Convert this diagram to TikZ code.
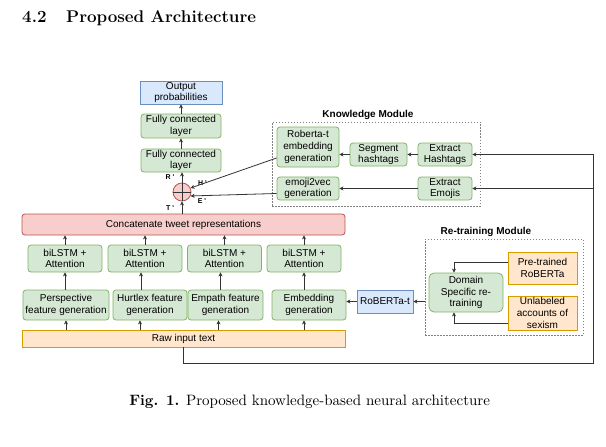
\documentclass[tikz,border=0pt]{standalone}
\usepackage{fontspec}
\newfontfamily\arialfont{Liberation Sans}
\usetikzlibrary{arrows.meta}
\definecolor{gfill}{HTML}{D5E8D4}
\definecolor{gline}{HTML}{82B366}
\definecolor{bfill}{HTML}{DAE8FC}
\definecolor{bline}{HTML}{6C8EBF}
\definecolor{rfill}{HTML}{F8CECC}
\definecolor{rline}{HTML}{B85450}
\definecolor{ofill}{HTML}{FFE6CC}
\definecolor{oline}{HTML}{D79B00}
\definecolor{lcol}{HTML}{333333}

\begin{document}
\begin{tikzpicture}[x=1pt,y=-1pt,
  box/.style={draw, line width=0.8pt, inner sep=1pt, align=center,
    font=\arialfont\fontsize{10}{11.8}\selectfont},
  gbox/.style={box, fill=gfill, draw=gline, rounded corners=3pt},
  bbox/.style={box, fill=bfill, draw=bline},
  obox/.style={box, fill=ofill, draw=oline},
  rbox/.style={box, fill=rfill, draw=rline, rounded corners=3pt},
  modbox/.style={draw=gray, line width=0.6pt, dash pattern=on 1.5pt off 1.5pt},
  modtitle/.style={font=\arialfont\bfseries\fontsize{10}{12}\selectfont},
  tag/.style={font=\arialfont\bfseries\fontsize{7}{8}\selectfont, inner sep=0pt},
  arr/.style={-{Stealth[length=4pt,width=4pt]}, line width=0.8pt, draw=lcol},
  ln/.style={line width=0.8pt, draw=lcol}]
\newcommand{\lstmy}{258.5}
\newcommand{\featy}{305}
\useasboundingbox (0,0) rectangle (606,447);

% heading and caption
\node[anchor=base west, inner sep=0pt, font=\bfseries\fontsize{17}{20}\selectfont] (secnum) at (22,22) {4.2};
\node[anchor=base west, inner sep=0pt, font=\bfseries\fontsize{17}{20}\selectfont] (sectitle) at (66,22) {Proposed Architecture};
\node[anchor=base west, inner sep=0pt, font=\fontsize{10}{12}\selectfont, scale=1.5, transform shape] (caption) at (129,405) {\textbf{Fig. 1.} Proposed knowledge-based neural architecture};

% main stack
\node[bbox, minimum width=82, minimum height=23] (out) at (181,92.5) {Output\\probabilities};
\node[gbox, minimum width=80, minimum height=24] (fc1) at (181,126) {Fully connected\\layer};
\node[gbox, minimum width=80, minimum height=23] (fc2) at (181,160.5) {Fully connected\\layer};
\node[circle, draw=rline, fill=rfill, line width=0.8pt, minimum size=18, inner sep=0pt] (sum) at (182,192) {};
\draw[line width=0.8pt, draw=lcol] (sum.north) -- (sum.south) (sum.west) -- (sum.east);
\node[rbox, minimum width=323, minimum height=21] (cat) at (183.5,224.5) {Concatenate tweet representations};

\node[gbox, minimum width=74, minimum height=27] (lstm1) at (65,\lstmy) {biLSTM +\\Attention};
\node[gbox, minimum width=74, minimum height=27] (lstm2) at (145,\lstmy) {biLSTM +\\Attention};
\node[gbox, minimum width=74, minimum height=27] (lstm3) at (224.5,\lstmy) {biLSTM +\\Attention};
\node[gbox, minimum width=74, minimum height=27] (lstm4) at (304,\lstmy) {biLSTM +\\Attention};

\node[gbox, minimum width=86, minimum height=30] (feat1) at (66,\featy) {Perspective\\feature generation};
\node[gbox, minimum width=74, minimum height=30] (feat2) at (150,\featy) {Hurtlex feature\\generation};
\node[gbox, minimum width=75, minimum height=30] (feat3) at (225.5,\featy) {Empath feature\\generation};
\node[gbox, minimum width=74, minimum height=30] (feat4) at (309,\featy) {Embedding\\generation};

\node[obox, minimum width=323, minimum height=17] (raw) at (183.5,338.5) {Raw input text};

\node[bbox, minimum width=56, minimum height=23] (rob) at (385,301.5) {RoBERTa-t};

% knowledge module
\node[modbox, minimum width=208, minimum height=84] (know) at (376,164) {};
\node[modtitle] (knowtitle) at (368,115) {Knowledge Module};
\node[gbox, minimum width=62, minimum height=40] (rgen) at (308,147) {Roberta-t\\embedding\\generation};
\node[gbox, minimum width=57, minimum height=23] (seg) at (378.5,154.5) {Segment\\hashtags};
\node[gbox, minimum width=54, minimum height=23] (exh) at (445,154.5) {Extract\\Hashtags};
\node[gbox, minimum width=62, minimum height=23] (egen) at (308,188.5) {emoji2vec\\generation};
\node[gbox, minimum width=54, minimum height=23] (exe) at (445,188.5) {Extract\\Emojis};

% re-training module
\node[modbox, minimum width=158, minimum height=96] (retrain) at (504,287) {};
\node[modtitle] (retraintitle) at (486,232) {Re-training Module};
\node[gbox, minimum width=74, minimum height=39, rounded corners=5pt] (dom) at (466,292.5) {Domain\\Specific re-\\training};
\node[obox, minimum width=69, minimum height=32] (pre) at (542.5,268) {Pre-trained\\RoBERTa};
\node[obox, minimum width=69, minimum height=34] (unl) at (542.5,313) {Unlabeled\\accounts of\\sexism};

% tags at the sum node
\node[tag] (rtag) at (170,177) {R '};
\node[tag] (htag) at (202.5,183) {H '};
\node[tag] (etag) at (202,201) {E '};
\node[tag] (ttag) at (170,208) {T '};

% connectors
\draw[arr] (out.south |- fc1.north) -- (out.south);
\draw[arr] (fc2.north) -- (fc1.south);
\draw[arr] (sum.north) -- (sum.north |- fc2.south);
\draw[arr] (sum.south |- cat.north) -- (sum.south);
\draw[arr] ([yshift=-11pt]rgen.west) -- (sum.25);
\draw[arr] ([yshift=-5pt]egen.west) -- (sum.-25);

\draw[arr] (lstm1.north) -- (lstm1.north |- cat.south);
\draw[arr] (lstm2.north) -- (lstm2.north |- cat.south);
\draw[arr] (lstm3.north) -- (lstm3.north |- cat.south);
\draw[arr] (lstm4.north) -- (lstm4.north |- cat.south);

\draw[arr] (lstm1.south |- feat1.north) -- (lstm1.south);
\draw[arr] ([xshift=-4pt]lstm2.south |- feat2.north) -- ([xshift=-4pt]lstm2.south);
\draw[arr] ([xshift=-4pt]lstm3.south |- feat3.north) -- ([xshift=-4pt]lstm3.south);
\draw[arr] (lstm4.south |- feat4.north) -- (lstm4.south);

\draw[arr] (feat1.south |- raw.north) -- (feat1.south);
\draw[arr] ([xshift=-10pt]feat2.south |- raw.north) -- ([xshift=-10pt]feat2.south);
\draw[arr] ([xshift=-7pt]feat3.south |- raw.north) -- ([xshift=-7pt]feat3.south);
\draw[arr] ([xshift=-5pt]feat4.south |- raw.north) -- ([xshift=-5pt]feat4.south);

\draw[arr] (rob.west) -- (feat4.east |- rob.west);
\draw[arr] (retrain.west |- rob.east) -- (rob.east);

\draw[arr] (exh.west) -- (seg.east);
\draw[arr] (seg.west) -- (rgen.east |- seg.west);
\draw[arr] (exe.west) -- (egen.east);

\draw[arr] ([yshift=6pt]pre.west) -| ([xshift=-12pt]dom.north);
\draw[arr] ([yshift=-10pt]unl.west) -| ([xshift=-12pt]dom.south);

\coordinate (feed) at (593,363);
\draw[arr] (raw.south) |- (feed) |- (exh.east);
\draw[arr] (feed |- exe.east) -- (exe.east);
\end{tikzpicture}
\end{document}
